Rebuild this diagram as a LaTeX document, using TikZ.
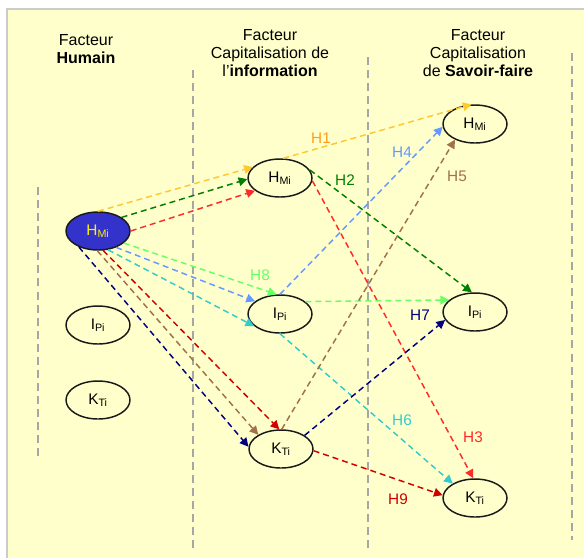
\documentclass[tikz,border=0pt]{standalone}
\usepackage{fontspec}
\setmainfont{Liberation Sans}
\usepackage{tikz}
\usepackage{xcolor}
\usetikzlibrary{arrows.meta}
\usetikzlibrary{shapes.geometric}

\definecolor{fond}{HTML}{FFFFCC}
\definecolor{bleufonce}{HTML}{3333CC}
\definecolor{cH1}{HTML}{FFC82E}
\definecolor{tH1}{HTML}{FF9C1A}
\definecolor{cH2}{HTML}{008000}
\definecolor{cH3}{HTML}{FF2A2A}
\definecolor{cH4}{HTML}{6699FF}
\definecolor{cH5}{HTML}{A0714A}
\definecolor{cH6}{HTML}{33CCCC}
\definecolor{cH7}{HTML}{000080}
\definecolor{cH8}{HTML}{66FF66}
\definecolor{cH9}{HTML}{D00000}

\tikzset{
    facteur/.style={ellipse, draw=black!90, line width=1.1pt, fill=fond,
        minimum width=48pt, minimum height=28.5pt, inner sep=0pt,
        font=\fontsize{11.5}{13}\selectfont},
    lien/.style={dash pattern=on 4.5pt off 3pt, line width=1.1pt,
        -{Triangle[length=6.5pt,width=6.5pt]}},
    etiq/.style={font=\fontsize{11.5}{13}\selectfont},
    titre/.style={align=center, font=\fontsize{12}{13.2}\selectfont},
    colonne/.style={dash pattern=on 6pt off 3.8pt, draw=black!35, line width=1.1pt},
}

\begin{document}
\begin{tikzpicture}[x=0.75pt, y=-0.75pt]
    \useasboundingbox (0,0) rectangle (584,558);
    %% fond jaune et bord gris
    \fill[fond] (7,9) rectangle (584,558);
    \draw[black!20, line width=1.5pt] (7,558) -- (7,9) -- (584,9);

    %% titres des colonnes
    \node[titre] (tHum) at (86,49) {Facteur\\\textbf{Humain}};
    \node[titre] (tInf) at (270,53) {Facteur\\Capitalisation de\\l'\textbf{information}};
    \node[titre] (tSav) at (478,53) {Facteur\\Capitalisation\\de \textbf{Savoir-faire}};

    %% separateurs
    \draw[colonne] (38,187) -- (38,458);
    \draw[colonne] (193,70) -- (193,552);
    \draw[colonne] (368,57) -- (368,552);
    \draw[colonne] (572,53) -- (572,540);

    %% facteur humain
    \node[facteur, fill=bleufonce, text=yellow] (lhm) at (98,231) {H\textsubscript{Mi}};
    \node[facteur] (lip) at (98,325) {I\textsubscript{Pi}};
    \node[facteur] (lkt) at (98,400) {K\textsubscript{Ti}};
    %% capitalisation de l'information
    \node[facteur] (mhm) at (280,178) {H\textsubscript{Mi}};
    \node[facteur] (mip) at (280,314) {I\textsubscript{Pi}};
    \node[facteur] (mkt) at (281,449) {K\textsubscript{Ti}};
    %% capitalisation de savoir-faire
    \node[facteur] (rhm) at (475,124) {H\textsubscript{Mi}};
    \node[facteur] (rip) at (475,312) {I\textsubscript{Pi}};
    \node[facteur] (rkt) at (475,498) {K\textsubscript{Ti}};

    %% H1, H2, H3 : par H_Mi
    \draw[lien, cH1] (lhm.90) -- (mhm.158);
    \draw[lien, cH1] (mhm.81) -- (rhm.100);
    \draw[lien, cH2] (lhm.30) -- (mhm.182);
    \draw[lien, cH2] (mhm.15) -- (rip.99);
    \draw[lien, cH3] (lhm.0) -- (mhm.207);
    \draw[lien, cH3] (mhm.-5) -- (rkt.95);
    %% H4, H6, H8 : par I_Pi
    \draw[lien, cH4] (lhm.-42) -- (mip.153);
    \draw[lien, cH4] (mip.90) -- (rhm.185);
    \draw[lien, cH6] (lhm.-62) -- (mip.205);
    \draw[lien, cH6] (mip.-90) -- (rkt.147);
    \draw[lien, cH8] (lhm.-25) -- (mip.100);
    \draw[lien, cH8] (mip.26) -- (rip.155);
    %% H5, H7, H9 : par K_Ti
    \draw[lien, cH5] (lhm.-92) -- (mkt.148);
    \draw[lien, cH5] (mkt.88) -- (rhm.218);
    \draw[lien, cH7] (lhm.-140) -- (mkt.176);
    \draw[lien, cH7] (mkt.30) -- (rip.195);
    \draw[lien, cH9] (lhm.-75) -- (mkt.95);
    \draw[lien, cH9] (mkt.-3) -- (rkt.175);

    %% etiquettes
    \node[etiq, text=tH1] (h1) at (321,138) {H1};
    \node[etiq, text=cH2] (h2) at (345,180) {H2};
    \node[etiq, text=cH3] (h3) at (473,437) {H3};
    \node[etiq, text=cH4] (h4) at (402,152) {H4};
    \node[etiq, text=cH5] (h5) at (457,176) {H5};
    \node[etiq, text=cH6] (h6) at (402,420) {H6};
    \node[etiq, text=cH7] (h7) at (420,315) {H7};
    \node[etiq, text=cH8] (h8) at (260,275) {H8};
    \node[etiq, text=cH9] (h9) at (398,499) {H9};
\end{tikzpicture}
\end{document}
